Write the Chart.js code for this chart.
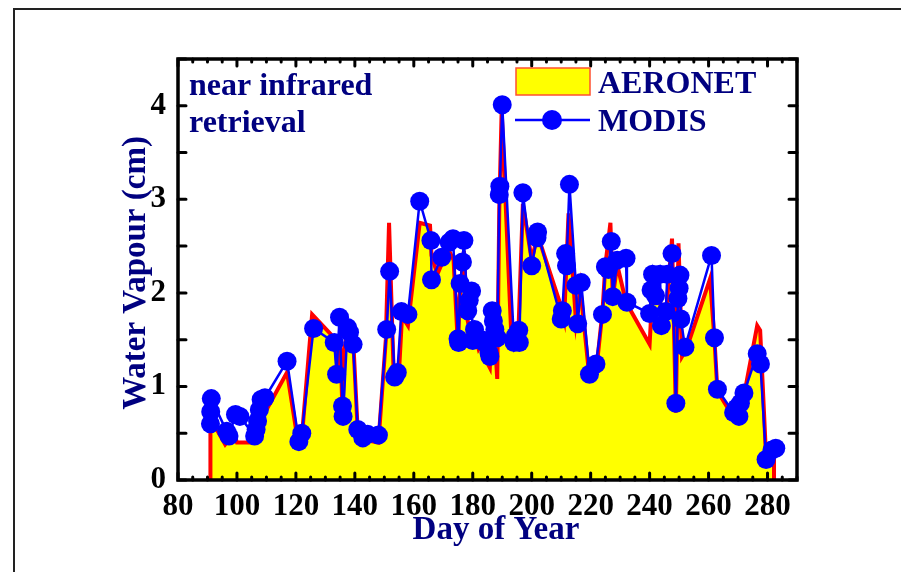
<!DOCTYPE html>
<html>
<head>
<meta charset="utf-8">
<script src="https://cdn.jsdelivr.net/npm/chart.js@4"></script>
<style>
  html, body { margin: 0; padding: 0; background: #fff; }
  canvas { display: block; }
</style>
</head>
<body>
<canvas id="graphCanvas" width="901" height="572"></canvas>
<script>
// tick labels
const xTicks = [80, 100, 120, 140, 160, 180, 200, 220, 240, 260, 280];
const yTicks = [0, 1, 2, 3, 4];

// MODIS (blue dots)
const modisDays = [91, 91.1, 91.3, 96.5, 97.3, 99.5, 101, 106, 106.5, 107, 107.6, 108.2, 109.5,
  117, 121, 122, 126, 133, 133.8, 134.8, 135.8, 136, 137.5, 138.2, 139.4, 141, 142.7, 144.3, 148,
  150.8, 151.8, 153.5, 154.4, 155.8, 158, 162, 165.8, 166, 169.5, 172, 173.3, 175, 175.2, 175.7,
  176.5, 177, 178.3, 178.8, 179.6, 180, 180.6, 183, 184, 185.5, 185.8, 186.6, 187, 187.5, 188.3,
  189, 189.2, 190, 194, 194.4, 195.6, 195.8, 197, 200, 201.8, 202, 210, 210.4, 211.5, 211.8, 212.8,
  215, 215.6, 216.8, 219.6, 221.8, 224, 225, 226, 227, 227.5, 229, 232, 232.3,
  240, 240.5, 241, 242, 243.5, 244, 245.5, 246, 247.6, 248.9, 249.6, 250, 250.3, 250.6, 252,
  261, 262, 263, 268.5, 269.5, 270.3, 270.8, 272, 276.5, 277.6, 279.5, 281.5, 282.8];
const modisValues = [0.60, 0.73, 0.87, 0.52, 0.47, 0.70, 0.68, 0.47, 0.54, 0.63, 0.75, 0.86, 0.88,
  1.27, 0.41, 0.50, 1.62, 1.47, 1.13, 1.74, 0.79, 0.68, 1.63, 1.58, 1.45, 0.54, 0.45, 0.49, 0.48,
  1.61, 2.23, 1.10, 1.15, 1.80, 1.77, 2.98, 2.56, 2.14, 2.38, 2.54, 2.58, 1.51, 1.47, 2.10,
  2.33, 2.56, 1.81, 1.92, 2.02, 1.49, 1.61, 1.50, 1.47, 1.36, 1.32, 1.81, 1.70, 1.61, 1.52,
  3.05, 3.14, 4.01, 1.47, 1.54, 1.60, 1.47, 3.07, 2.29, 2.59, 2.65, 1.72, 1.81, 2.42, 2.29, 3.16,
  2.08, 1.67, 2.11, 1.13, 1.24, 1.77, 2.28, 2.25, 2.55, 1.96, 2.35, 2.37, 1.90,
  1.78, 2.03, 2.20, 1.97, 2.20, 1.65, 1.80, 2.20, 2.42, 0.82, 1.94, 2.05, 2.19, 1.72, 1.42,
  2.40, 1.52, 0.97, 0.72, 0.77, 0.68, 0.82, 0.93, 1.35, 1.24, 0.22, 0.32, 0.34];

// AERONET (red outline, yellow fill)
const aeronetDays = [91, 91, 93.5, 96, 99, 100, 105.5, 107, 109.5, 117, 120.5, 122, 125.5, 133, 134,
  135, 135.8, 136.5, 137.8, 139.2, 141, 143, 145, 148, 150.5, 151.6, 153.2, 155, 156, 158, 162,
  165.5, 166, 168, 170, 172, 173.5, 175, 175.5, 176.5, 177, 178, 179.2, 180.2, 182, 184, 185,
  185.8, 186.5, 187.5, 188.3, 189, 189.8, 193, 194, 195.5, 197, 200, 202, 210, 211, 212.5, 213.5,
  215, 216.5, 219.5, 222, 224, 225, 226.7, 227.5, 229, 232, 240, 241, 243.5, 244, 245.5, 247.6,
  248.9, 249.8, 251, 252.5, 260.5, 262, 263, 267.5, 270, 272, 276.5, 277.5, 279.5, 281.5, 282.2, 282.2];
const aeronetValues = [0, 0.62, 0.52, 0.38, 0.5, 0.4, 0.4, 0.55, 0.72, 1.15, 0.45, 0.45, 1.77, 1.52, 1.25,
  1.55, 0.72, 1.4, 1.68, 1.65, 0.5, 0.38, 0.42, 0.4, 1.5, 2.75, 1.1, 1.17, 1.75, 1.65, 2.75,
  2.72, 2.4, 2.2, 2.35, 2.45, 2.35, 1.4, 1.95, 2.25, 2.45, 1.75, 1.55, 1.62, 1.4, 1.5, 1.25,
  1.2, 1.62, 1.5, 1.08, 2.9, 3.95, 1.6, 1.55, 1.6, 2.95, 2.35, 2.62, 1.85, 1.72, 2.85, 2.4,
  1.7, 2.05, 1.12, 1.2, 1.8, 2.3, 2.75, 1.95, 2.3, 1.9, 1.45, 2.05, 2.0, 1.65, 1.75, 2.58,
  0.72, 2.53, 1.32, 1.4, 2.15, 1.5, 0.95, 0.72, 0.7, 0.9, 1.65, 1.6, 0.25, 0.3, 0.3, 0];

const serif = '"Liberation Serif", "Times New Roman", serif';
const navy = '#000080';

const framePlugin = {
  id: 'framePlugin',
  beforeDraw(chart) {
    const ctx = chart.ctx;
    ctx.save();
    ctx.fillStyle = '#fff';
    ctx.fillRect(0, 0, chart.width, chart.height);
    ctx.strokeStyle = '#222';
    ctx.lineWidth = 2;
    ctx.strokeRect(14, 9, 1000, 1000);
    ctx.restore();
  },
  afterDatasetsDraw(chart) {
    const ctx = chart.ctx;
    const a = chart.chartArea;
    const xs = chart.scales.x, ys = chart.scales.y;
    ctx.save();
    ctx.strokeStyle = '#000';
    ctx.lineCap = 'round';
    ctx.lineWidth = 3;
    ctx.beginPath();
    for (let v = 80; v <= 290; v += 5) {
      const px = xs.getPixelForValue(v);
      const len = v % 20 === 0 ? 7 : 3;
      ctx.moveTo(px, a.bottom); ctx.lineTo(px, a.bottom - len);
      ctx.moveTo(px, a.top); ctx.lineTo(px, a.top + len);
    }
    for (let v = 0; v <= 4.5; v += 0.5) {
      const py = ys.getPixelForValue(v);
      ctx.moveTo(a.left, py); ctx.lineTo(a.left + 8, py);
      ctx.moveTo(a.right, py); ctx.lineTo(a.right - 8, py);
    }
    ctx.stroke();
    ctx.lineCap = 'butt';
    ctx.lineWidth = 3.5;
    ctx.strokeRect(a.left, a.top, a.right - a.left, a.bottom - a.top);

    // legend
    ctx.fillStyle = '#ffff00';
    ctx.fillRect(516, 68, 74, 27);
    ctx.strokeStyle = '#ff5030';
    ctx.lineWidth = 1.5;
    ctx.strokeRect(516, 68, 74, 27);
    ctx.strokeStyle = '#0000ff';
    ctx.lineWidth = 2.5;
    ctx.beginPath();
    ctx.moveTo(515, 120); ctx.lineTo(590, 120);
    ctx.stroke();
    ctx.fillStyle = '#0000ff';
    ctx.beginPath();
    ctx.arc(552, 120, 10, 0, Math.PI * 2);
    ctx.fill();

    ctx.fillStyle = navy;
    ctx.font = 'bold 32px ' + serif;
    ctx.textAlign = 'left';
    ctx.textBaseline = 'alphabetic';
    ctx.fillText('AERONET', 598, 93);
    ctx.fillText('MODIS', 598, 131);
    ctx.fillText('near infrared', 189, 95);
    ctx.fillText('retrieval', 189, 132);

    // axis titles
    ctx.font = 'bold 33px ' + serif;
    ctx.textAlign = 'center';
    ctx.textBaseline = 'middle';
    ctx.fillText('Day of Year', 496, 530);
    ctx.translate(136, 273);
    ctx.rotate(-Math.PI / 2);
    ctx.fillText('Water Vapour (cm)', 0, 0);
    ctx.restore();
  }
};

const ctx = document.getElementById('graphCanvas');

new Chart(ctx, {
  type: 'line',
  data: {
    datasets: [{
      label: 'AERONET',
      data: aeronetDays.map((d, i) => ({ x: d, y: aeronetValues[i] })),
      borderColor: '#ff0000',
      backgroundColor: '#ffff00',
      borderWidth: 4,
      fill: 'origin',
      pointRadius: 0,
      tension: 0,
      order: 1
    }, {
      label: 'MODIS',
      data: modisDays.map((d, i) => ({ x: d, y: modisValues[i] })),
      borderColor: '#0000ff',
      backgroundColor: '#0000ff',
      borderWidth: 2.5,
      pointRadius: 9.5,
      pointBorderWidth: 0,
      pointBackgroundColor: '#0000ff',
      fill: false,
      tension: 0,
      order: 0
    }]
  },
  options: {
    responsive: false,
    animation: false,
    devicePixelRatio: 1,
    layout: { padding: { left: 0, top: 59, right: 104, bottom: 0 } },
    plugins: { legend: { display: false }, tooltip: { enabled: false } },
    scales: {
      x: {
        type: 'linear',
        min: 80, max: 290,
        afterBuildTicks: s => { s.ticks = xTicks.map(v => ({ value: v })); },
        afterFit: s => { s.height = 92; },
        grid: { display: false, drawTicks: false },
        border: { display: false },
        ticks: { color: '#000', padding: 8, maxRotation: 0, font: { family: serif, weight: 'bold', size: 31 } }
      },
      y: {
        min: 0, max: 4.5,
        afterBuildTicks: s => { s.ticks = yTicks.map(v => ({ value: v })); },
        afterFit: s => { s.width = 178; },
        grid: { display: false, drawTicks: false },
        border: { display: false },
        ticks: { color: '#000', padding: 12, font: { family: serif, weight: 'bold', size: 31 } }
      }
    }
  },
  plugins: [framePlugin]
});
</script>
</body>
</html>
